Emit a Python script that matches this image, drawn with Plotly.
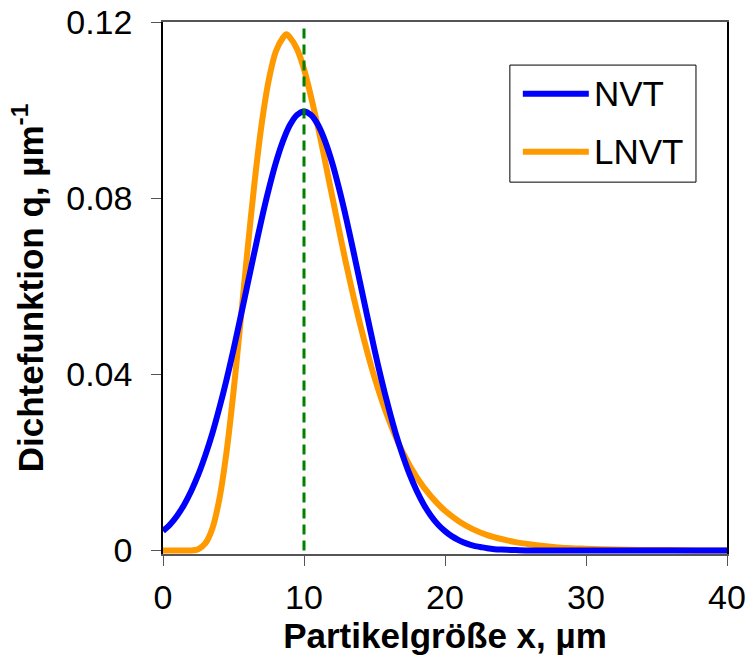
import plotly.graph_objects as go

# NVT (normal distribution)
x_nvt = [0, 0.5, 1, 1.5, 2, 2.5, 3, 3.5, 4, 4.5, 5, 5.5, 6, 6.5, 7, 7.5, 8, 8.5, 9, 9.5,
         10, 10.5, 11, 11.5, 12, 12.5, 13, 13.5, 14, 14.5, 15, 15.5, 16, 16.5, 17, 17.5,
         18, 18.5, 19, 19.5, 20, 20.5, 21, 21.5, 22, 22.5, 23, 23.5, 24, 25, 26, 28, 30,
         32, 34, 36, 38, 40]
q_nvt = [0.0044, 0.0059, 0.0079, 0.0104, 0.0135, 0.0172, 0.0216, 0.0266, 0.0324, 0.0387,
         0.0456, 0.0530, 0.0605, 0.0680, 0.0753, 0.0820, 0.0880, 0.0929, 0.0966, 0.0989,
         0.0997, 0.0989, 0.0966, 0.0929, 0.0880, 0.0820, 0.0753, 0.0680, 0.0605, 0.0530,
         0.0456, 0.0387, 0.0324, 0.0266, 0.0216, 0.0172, 0.0135, 0.0104, 0.0079, 0.0059,
         0.0044, 0.0032, 0.0023, 0.0016, 0.0011, 0.0008, 0.0005, 0.0003, 0.0002, 0.0001,
         0, 0, 0, 0, 0, 0, 0, 0]

# LNVT (log-normal distribution)
x_lnvt = [0, 1, 2, 2.5, 3, 3.5, 4, 4.5, 5, 5.5, 6, 6.5, 7, 7.5, 8, 8.5, 8.75, 9, 9.5, 10,
          11, 12, 13, 14, 15, 16, 17, 18, 19, 20, 21, 22, 23, 24, 25, 26, 27, 28, 29, 30,
          32, 34, 36, 38, 40]
q_lnvt = [0, 0, 0, 0.0003, 0.0016, 0.0050, 0.0117, 0.0222, 0.0360, 0.0520, 0.0684, 0.0838,
          0.0969, 0.1068, 0.1133, 0.1164, 0.1172, 0.1165, 0.1139, 0.1093,
          0.0960, 0.0804, 0.0649, 0.0511, 0.0393, 0.0298, 0.0223, 0.0166, 0.0123, 0.0090,
          0.0066, 0.0048, 0.0035, 0.0026, 0.0019, 0.0014, 0.0010, 0.0007, 0.0005, 0.0004,
          0.0002, 0.0001, 0.0001, 0.0000, 0.0000]

x_ref = [10, 10]
q_ref = [0, 0.119]

x_ticks = [0, 10, 20, 30, 40]
y_ticks = [0, 0.04, 0.08, 0.12]
y_ticklabels = ["0", "0.04", "0.08", "0.12"]

series_names = ["NVT", "LNVT"]
series_colors = ["#0000FF", "#FF9900"]

FONT = "Liberation Sans, Arial, sans-serif"

fig = go.Figure()
fig.add_trace(go.Scatter(x=x_lnvt, y=q_lnvt, mode="lines", name=series_names[1],
                         line=dict(color=series_colors[1], width=6, shape="spline", smoothing=0.8),
                         showlegend=False))
fig.add_trace(go.Scatter(x=x_nvt, y=q_nvt, mode="lines", name=series_names[0],
                         line=dict(color=series_colors[0], width=6, shape="spline", smoothing=0.8),
                         showlegend=False))
fig.add_trace(go.Scatter(x=x_ref, y=q_ref, mode="lines",
                         line=dict(color="#008000", width=3, dash="10px,6px"),
                         showlegend=False))

# manual legend (long line samples like the original)
leg_x0, leg_x1, leg_y0, leg_y1 = 0.615, 0.945, 0.699, 0.919
fig.add_shape(type="rect", xref="paper", yref="paper", x0=leg_x0, x1=leg_x1, y0=leg_y0, y1=leg_y1,
              line=dict(color="black", width=1), fillcolor="white")
for name, color, yy in zip(series_names, series_colors, [0.865, 0.756]):
    fig.add_shape(type="line", xref="paper", yref="paper", x0=0.638, x1=0.755, y0=yy, y1=yy,
                  line=dict(color=color, width=6))
    fig.add_annotation(xref="paper", yref="paper", x=0.760, y=yy, text=name, showarrow=False,
                       xanchor="left", yanchor="middle", font=dict(family=FONT, size=35, color="black"))

fig.update_layout(
    width=754, height=658,
    margin=dict(l=163, r=27, t=22, b=104),
    plot_bgcolor="white", paper_bgcolor="white",
    font=dict(family=FONT, color="black"),
    showlegend=False,
)
fig.update_xaxes(range=[0, 40], tickvals=x_ticks, ticks="outside", ticklen=10, tickcolor="#555555",
                 showline=True, linecolor="#555555", linewidth=1.5, mirror=True, showgrid=False, zeroline=False,
                 tickfont=dict(size=34, family=FONT), ticklabelstandoff=2, automargin=False,
                 title=dict(text="<b>Partikelgröße x, µm</b>", font=dict(size=35, family=FONT), standoff=4))
fig.update_yaxes(range=[-0.0008, 0.12], tickvals=y_ticks, ticktext=y_ticklabels, ticks="outside", ticklen=10,
                 tickcolor="#555555", showline=True, linecolor="black", linewidth=1.5, mirror=True,
                 showgrid=False, zeroline=False, automargin=False,
                 tickfont=dict(size=34, family=FONT), ticklabelstandoff=12,
                 title=dict(text="<b>Dichtefunktion q, µm<sup>-1</sup></b>", font=dict(size=35, family=FONT), standoff=12))

fig.write_html("out.html")
